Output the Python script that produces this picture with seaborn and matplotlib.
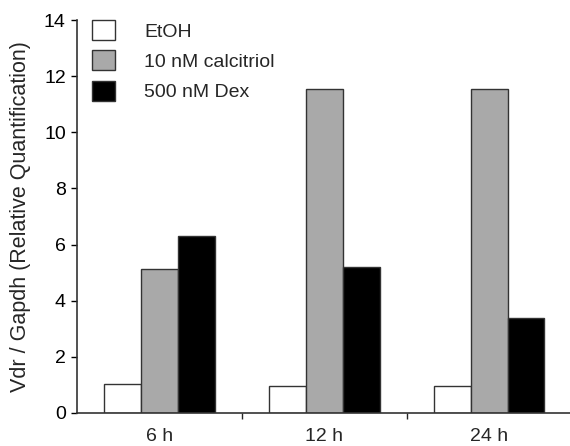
import matplotlib
matplotlib.use("Agg")
import matplotlib.pyplot as plt
import pandas as pd
import seaborn as sns

times = ["6 h", "12 h", "24 h"]
treatments = ["EtOH", "10 nM calcitriol", "500 nM Dex"]
etoh = [1.03, 0.96, 0.96]
calcitriol = [5.14, 11.54, 11.54]
dex = [6.30, 5.21, 3.38]

df = pd.DataFrame({
    "time": times * 3,
    "treatment": [t for t in treatments for _ in times],
    "value": etoh + calcitriol + dex,
})

sns.set_style("ticks")
plt.rcParams["font.family"] = ["Liberation Sans", "DejaVu Sans"]

fig = plt.figure(figsize=(5.7, 4.46), dpi=100)
ax = fig.add_axes([0.135, 0.074, 0.868, 0.881])

palette = {"EtOH": "white", "10 nM calcitriol": "#a9a9a9", "500 nM Dex": "black"}
sns.barplot(data=df, x="time", y="value", hue="treatment", order=times,
            hue_order=treatments, palette=palette, width=0.67,
            edgecolor="#333333", linewidth=1.0, saturation=1, ax=ax)

ax.set_xlim(-0.5, 2.5)
ax.set_ylim(0, 14)
ax.set_yticks(range(0, 15, 2))
ax.set_xlabel("")
ax.set_ylabel("Vdr / Gapdh (Relative Quantification)", fontsize=15.5, labelpad=9)
ax.tick_params(axis="y", labelsize=14, length=4, width=1, direction="out", colors="black", pad=4)
ax.tick_params(axis="x", which="major", labelsize=14, length=0, pad=11)
ax.set_xticks([0.5, 1.5], minor=True)
ax.tick_params(axis="x", which="minor", length=4, width=1, direction="out")
for s in ["top", "right"]:
    ax.spines[s].set_visible(False)
for s in ["left", "bottom"]:
    ax.spines[s].set_color("#333333")
    ax.spines[s].set_linewidth(1.2)

ax.legend(title=None, frameon=False, loc="upper left", bbox_to_anchor=(0.03, 1.0),
          borderpad=0, borderaxespad=0, handlelength=1.2, handleheight=1.2,
          labelspacing=0.5, handletextpad=1.5, fontsize=14)

fig.savefig("out.png", dpi=100)
